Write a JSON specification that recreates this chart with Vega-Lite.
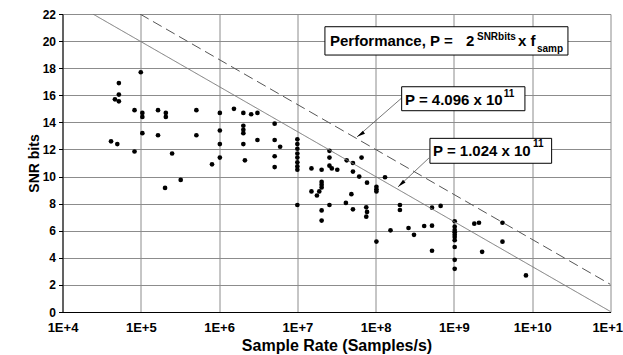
{
  "$schema": "https://vega.github.io/schema/vega-lite/v6.json",
  "width": 548,
  "height": 298,
  "autosize": {"type": "none"},
  "padding": {"left": 62.5, "top": 14, "right": 12.5, "bottom": 43},
  "background": "white",
  "config": {
    "font": "Liberation Sans",
    "view": {"stroke": null},
    "axis": {
      "labelFont": "Liberation Sans",
      "titleFont": "Liberation Sans",
      "labelFontWeight": "bold",
      "titleFontWeight": "bold",
      "labelColor": "black",
      "titleColor": "black",
      "gridColor": "#8c8c8c",
      "gridWidth": 1,
      "gridOpacity": 1,
      "domainColor": "black",
      "domainWidth": 1,
      "tickColor": "black",
      "labelOverlap": false
    },
    "axisX": {"labelFontSize": 13, "labelPadding": 9, "tickSize": 0, "titleFontSize": 16, "titlePadding": 3, "labelFlush": false},
    "axisY": {"labelFontSize": 12, "labelPadding": 3, "tickSize": 4, "titleFontSize": 14, "titlePadding": 1}
  },
  "datasets": {
    "pts": [
      {"f": 100000, "snr": 17.7}, {"f": 52480, "snr": 16.9}, {"f": 52480, "snr": 16.05}, {"f": 46770, "snr": 15.7}, {"f": 52480, "snr": 15.55},
      {"f": 83180, "snr": 14.9}, {"f": 104700, "snr": 14.7}, {"f": 104700, "snr": 14.4}, {"f": 166000, "snr": 14.9}, {"f": 208900, "snr": 14.7},
      {"f": 208900, "snr": 14.4}, {"f": 512900, "snr": 14.9}, {"f": 1023000, "snr": 14.7}, {"f": 1549000, "snr": 15.0}, {"f": 2042000, "snr": 14.7},
      {"f": 2570000, "snr": 14.6}, {"f": 3090000, "snr": 14.7}, {"f": 5129000, "snr": 13.9}, {"f": 2042000, "snr": 13.75}, {"f": 2042000, "snr": 13.45},
      {"f": 2042000, "snr": 13.2}, {"f": 104700, "snr": 13.2}, {"f": 166000, "snr": 13.05}, {"f": 512900, "snr": 13.05}, {"f": 1023000, "snr": 13.4},
      {"f": 5129000, "snr": 12.7}, {"f": 3090000, "snr": 12.7}, {"f": 6026000, "snr": 12.2}, {"f": 41690, "snr": 12.6}, {"f": 50120, "snr": 12.4},
      {"f": 1023000, "snr": 12.4}, {"f": 2042000, "snr": 12.4},
      {"f": 10000000, "snr": 12.75}, {"f": 10000000, "snr": 12.4}, {"f": 10000000, "snr": 12.05}, {"f": 10000000, "snr": 11.7},
      {"f": 10000000, "snr": 11.4}, {"f": 10000000, "snr": 11.05}, {"f": 10000000, "snr": 10.75}, {"f": 10000000, "snr": 10.5},
      {"f": 83180, "snr": 11.85}, {"f": 251200, "snr": 11.7}, {"f": 1023000, "snr": 11.4}, {"f": 812800, "snr": 10.9}, {"f": 2138000, "snr": 11.2},
      {"f": 5129000, "snr": 11.5}, {"f": 5129000, "snr": 10.7}, {"f": 15140000, "snr": 10.6}, {"f": 20420000, "snr": 10.5}, {"f": 25700000, "snr": 11.9},
      {"f": 25700000, "snr": 11.4}, {"f": 25700000, "snr": 10.8}, {"f": 27540000, "snr": 10.6}, {"f": 32360000, "snr": 10.5}, {"f": 323600, "snr": 9.75},
      {"f": 204200, "snr": 9.16}, {"f": 15140000, "snr": 8.9}, {"f": 20420000, "snr": 9.6}, {"f": 20420000, "snr": 9.4}, {"f": 20420000, "snr": 9.2},
      {"f": 19050000, "snr": 8.9}, {"f": 17780000, "snr": 8.6}, {"f": 10000000, "snr": 7.9}, {"f": 20420000, "snr": 7.5}, {"f": 20420000, "snr": 6.75},
      {"f": 25700000, "snr": 7.9}, {"f": 42660000, "snr": 11.2}, {"f": 51290000, "snr": 11.0}, {"f": 66070000, "snr": 11.4}, {"f": 51290000, "snr": 10.37},
      {"f": 61660000, "snr": 10.0}, {"f": 77620000, "snr": 9.55}, {"f": 102300000, "snr": 9.24}, {"f": 102300000, "snr": 9.06}, {"f": 102300000, "snr": 8.9},
      {"f": 131800000, "snr": 9.95}, {"f": 41690000, "snr": 8.05}, {"f": 48980000, "snr": 8.7}, {"f": 51290000, "snr": 7.58}, {"f": 75860000, "snr": 7.73},
      {"f": 77620000, "snr": 7.39}, {"f": 75860000, "snr": 7.04}, {"f": 102300000, "snr": 5.2}, {"f": 154900000, "snr": 6.03}, {"f": 204200000, "snr": 7.9},
      {"f": 204200000, "snr": 7.53}, {"f": 263000000, "snr": 6.2}, {"f": 309000000, "snr": 5.7}, {"f": 416900000, "snr": 6.35}, {"f": 524800000, "snr": 6.37},
      {"f": 524800000, "snr": 7.7}, {"f": 676100000, "snr": 7.83}, {"f": 524800000, "snr": 4.52},
      {"f": 1023000000, "snr": 6.7}, {"f": 1023000000, "snr": 6.3}, {"f": 1023000000, "snr": 6.05}, {"f": 1023000000, "snr": 5.88}, {"f": 1023000000, "snr": 5.7},
      {"f": 1023000000, "snr": 5.53}, {"f": 1023000000, "snr": 5.3}, {"f": 1023000000, "snr": 4.8}, {"f": 1023000000, "snr": 3.85}, {"f": 1023000000, "snr": 3.19},
      {"f": 1820000000, "snr": 6.52}, {"f": 2089000000, "snr": 6.59}, {"f": 4169000000, "snr": 6.59}, {"f": 4169000000, "snr": 5.19}, {"f": 2291000000, "snr": 4.44},
      {"f": 8318000000, "snr": 2.7}
    ],
    "minor": [
      {"f": 2e4}, {"f": 3e4}, {"f": 4e4}, {"f": 5e4}, {"f": 6e4}, {"f": 7e4}, {"f": 8e4}, {"f": 9e4},
      {"f": 2e5}, {"f": 3e5}, {"f": 4e5}, {"f": 5e5}, {"f": 6e5}, {"f": 7e5}, {"f": 8e5}, {"f": 9e5},
      {"f": 2e6}, {"f": 3e6}, {"f": 4e6}, {"f": 5e6}, {"f": 6e6}, {"f": 7e6}, {"f": 8e6}, {"f": 9e6},
      {"f": 2e7}, {"f": 3e7}, {"f": 4e7}, {"f": 5e7}, {"f": 6e7}, {"f": 7e7}, {"f": 8e7}, {"f": 9e7},
      {"f": 2e8}, {"f": 3e8}, {"f": 4e8}, {"f": 5e8}, {"f": 6e8}, {"f": 7e8}, {"f": 8e8}, {"f": 9e8},
      {"f": 2e9}, {"f": 3e9}, {"f": 4e9}, {"f": 5e9}, {"f": 6e9}, {"f": 7e9}, {"f": 8e9}, {"f": 9e9},
      {"f": 2e10}, {"f": 3e10}, {"f": 4e10}, {"f": 5e10}, {"f": 6e10}, {"f": 7e10}, {"f": 8e10}, {"f": 9e10}
    ],
    "lines": [
      {"series": "P = 1.024e11", "f": 24414, "snr": 22},
      {"series": "P = 1.024e11", "f": 1e11, "snr": 0.034},
      {"series": "P = 4.096e11", "f": 97656, "snr": 22},
      {"series": "P = 4.096e11", "f": 1e11, "snr": 2.034}
    ],
    "arrows": [
      {"id": "a", "f": 2.153e8, "snr": 15.8},
      {"id": "a", "f": 5.78e7, "snr": 12.92},
      {"id": "b", "f": 4.8e8, "snr": 11.37},
      {"id": "b", "f": 1.93e8, "snr": 9.23}
    ],
    "heads": [
      {"id": "a", "f": 6.4e7, "snr": 13.1},
      {"id": "b", "f": 2.12e8, "snr": 9.45}
    ],
    "boxes": [
      {"f": 2.25e7, "f2": 2.86e10, "snr": 21.06, "snr2": 18.97},
      {"f": 2.15e8, "f2": 8.07e9, "snr": 16.63, "snr2": 14.86},
      {"f": 4.94e8, "f2": 1.77e10, "snr": 12.82, "snr2": 10.98}
    ],
    "mainText": [
      {"f": 2.61e7, "snr": 19.64, "label": "Performance, P ="},
      {"f": 1.43e9, "snr": 19.64, "label": "2"},
      {"f": 6.58e9, "snr": 19.64, "label": "x f"},
      {"f": 2.37e8, "snr": 15.28, "label": "P = 4.096 x 10"},
      {"f": 5.4e8, "snr": 11.52, "label": "P = 1.024 x 10"}
    ],
    "smallText": [
      {"f": 1.97e9, "snr": 20.08, "label": "SNRbits"},
      {"f": 1.15e10, "snr": 19.2, "label": "samp"},
      {"f": 4.32e9, "snr": 15.9, "label": "11"},
      {"f": 1.02e10, "snr": 12.16, "label": "11"}
    ]
  },
  "encoding": {
    "x": {
      "field": "f", "type": "quantitative",
      "scale": {"type": "log", "domain": [10000, 100000000000], "nice": false},
      "axis": {
        "title": "Sample Rate (Samples/s)",
        "values": [1e4, 1e5, 1e6, 1e7, 1e8, 1e9, 1e10, 1e11],
        "labelExpr": "'1E+' + round(log(datum.value) / LN10)"
      }
    },
    "y": {
      "field": "snr", "type": "quantitative",
      "scale": {"domain": [0, 22], "nice": false},
      "axis": {
        "title": "SNR bits",
        "values": [0, 2, 4, 6, 8, 10, 12, 14, 16, 18, 20, 22]
      }
    }
  },
  "layer": [
    {
      "data": {"name": "minor"},
      "mark": {"type": "rule", "color": "black", "strokeWidth": 1},
      "encoding": {
        "y": {"datum": 0, "type": "quantitative", "axis": {"title": "SNR bits", "values": [0, 2, 4, 6, 8, 10, 12, 14, 16, 18, 20, 22]}},
        "y2": {"datum": 0.25}
      }
    },
    {
      "data": {"name": "pts"},
      "mark": {"type": "point", "filled": true, "color": "black", "opacity": 1, "size": 22, "shape": "circle"}
    },
    {
      "data": {"name": "lines"},
      "mark": {"type": "line", "strokeWidth": 1, "clip": true},
      "encoding": {
        "detail": {"field": "series"},
        "color": {"field": "series", "type": "nominal", "scale": {"range": ["#777777", "#555555"]}, "legend": null},
        "strokeDash": {"field": "series", "type": "nominal", "scale": {"range": [[1, 0], [10, 5]]}, "legend": null}
      }
    },
    {
      "data": {"name": "arrows"},
      "mark": {"type": "line", "color": "#555555", "strokeWidth": 0.8},
      "encoding": {"detail": {"field": "id"}}
    },
    {
      "data": {"name": "heads"},
      "transform": [{"filter": "datum.id == 'a'"}],
      "mark": {"type": "point", "filled": true, "color": "black", "opacity": 1, "size": 70, "angle": 236.6, "shape": "M0,-1L0.45,1L-0.45,1Z"}
    },
    {
      "data": {"name": "heads"},
      "transform": [{"filter": "datum.id == 'b'"}],
      "mark": {"type": "point", "filled": true, "color": "black", "opacity": 1, "size": 70, "angle": 227, "shape": "M0,-1L0.45,1L-0.45,1Z"}
    },
    {
      "data": {"name": "boxes"},
      "mark": {"type": "rect", "fill": "white", "stroke": "black", "strokeWidth": 1},
      "encoding": {
        "x2": {"field": "f2"},
        "y2": {"field": "snr2"}
      }
    },
    {
      "data": {"name": "mainText"},
      "mark": {"type": "text", "align": "left", "baseline": "alphabetic", "fontSize": 15, "fontWeight": "bold", "font": "Liberation Sans", "color": "black"},
      "encoding": {"text": {"field": "label"}}
    },
    {
      "data": {"name": "smallText"},
      "mark": {"type": "text", "align": "left", "baseline": "alphabetic", "fontSize": 10, "fontWeight": "bold", "font": "Liberation Sans", "color": "black"},
      "encoding": {"text": {"field": "label"}}
    }
  ]
}
